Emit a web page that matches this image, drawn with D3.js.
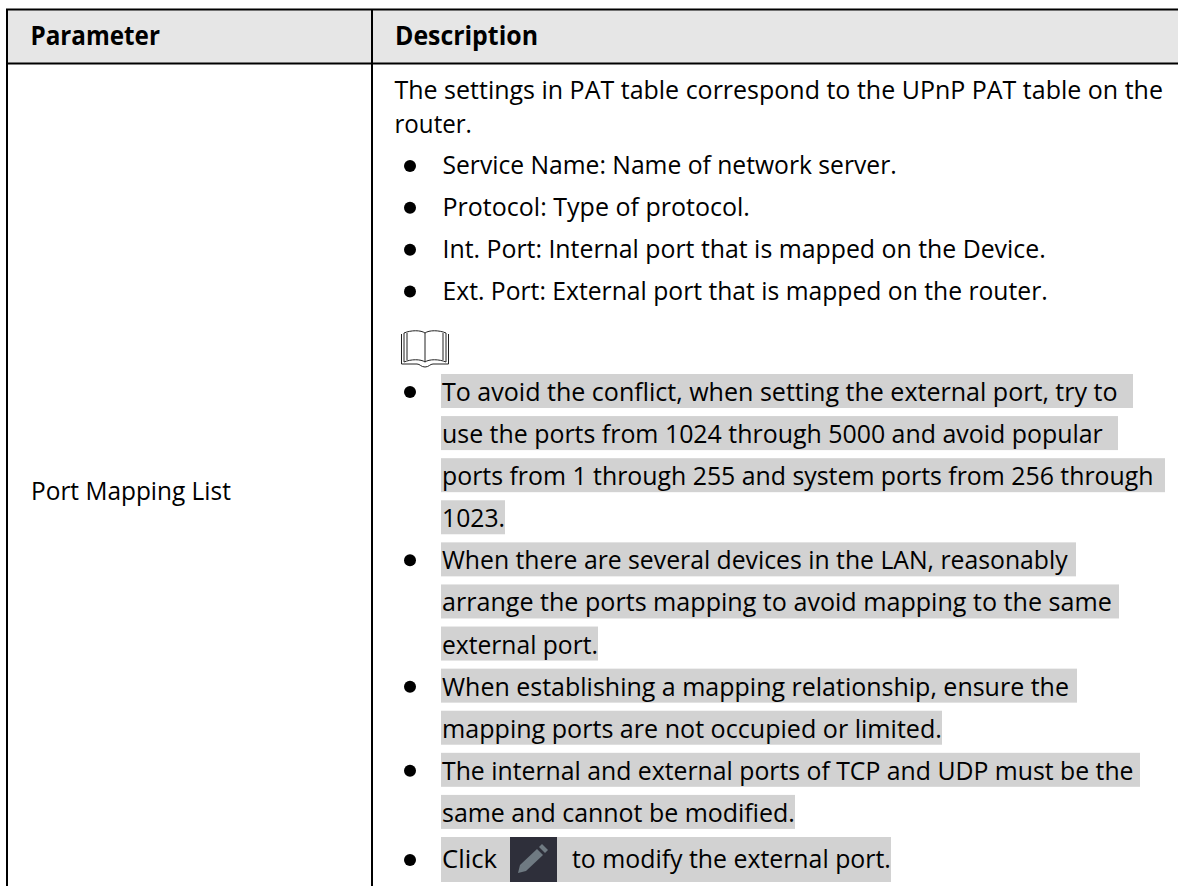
<!DOCTYPE html>
<html><head><meta charset="utf-8">
<script src="https://cdn.jsdelivr.net/npm/d3@7"></script>
<style>html,body{margin:0;padding:0;background:#fff;overflow:hidden}svg{display:block}text{font-family:"Open Sans",sans-serif;fill:#000}</style>
</head><body><div id="c"></div>
<script>
const headers = ["Parameter", "Description"];
const paramName = "Port Mapping List";
const introLines = ["The settings in PAT table correspond to the UPnP PAT table on the", "router."];
const plainBullets = [
  "Service Name: Name of network server.",
  "Protocol: Type of protocol.",
  "Int. Port: Internal port that is mapped on the Device.",
  "Ext. Port: External port that is mapped on the router."
];
const noteLines = [
  "To avoid the conflict, when setting the external port, try to",
  "use the ports from 1024 through 5000 and avoid popular",
  "ports from 1 through 255 and system ports from 256 through",
  "1023.",
  "When there are several devices in the LAN, reasonably",
  "arrange the ports mapping to avoid mapping to the same",
  "external port.",
  "When establishing a mapping relationship, ensure the",
  "mapping ports are not occupied or limited.",
  "The internal and external ports of TCP and UDP must be the",
  "same and cannot be modified."
];
const noteBulletRows = [0, 4, 7, 9];
const lastBefore = "Click";
const lastAfter = "to modify the external port.";

// Extents (right end of each text line / highlight)
const introEnds = [1163, 472];
const plainEnds = [897, 750, 1046, 1048];
const noteEnds = [1118, 1103, 1154, 505, 1068, 1112, 598, 1069, 942, 1134, 795];
const noteHighlightEnds = [1133, 1118, 1165, 505, 1076, 1119, 598, 1077, 942, 1140, 795];

const W = 1178, H = 886;
const svg = d3.select("#c").append("svg").attr("width", W).attr("height", H);

const FS = 26;
const colLeft = 7, colMid = 372;
const plainY = d3.scaleLinear().domain([0, 3]).range([174, 299.5]);
const noteTop = d3.scaleLinear().domain([0, 11]).range([374, 837]);
const noteBase = i => noteTop(i) + 27;
const HL = "#d2d2d2";

// header band
svg.append("rect").attr("x", colLeft).attr("y", 9).attr("width", W - colLeft).attr("height", 54).attr("fill", "#e6e6e6");

// highlights
svg.selectAll("rect.hl").data(noteHighlightEnds).join("rect").attr("class", "hl")
  .attr("x", 441).attr("y", (d, i) => noteTop(i)).attr("width", d => d - 441).attr("height", 34).attr("fill", HL);
svg.append("rect").attr("x", 441).attr("y", noteTop(11)).attr("width", 891 - 441).attr("height", 45).attr("fill", HL);

// grid lines
const lines = [[6, 9.5, W, 9.5], [6, 63.5, W, 63.5], [colLeft, 9, colLeft, H], [colMid, 9, colMid, H]];
svg.selectAll("line.g").data(lines).join("line").attr("class", "g")
  .attr("x1", d => d[0]).attr("y1", d => d[1]).attr("x2", d => d[2]).attr("y2", d => d[3])
  .attr("stroke", "#000").attr("stroke-width", 2);

// Text is narrowed horizontally to the width (the original face is narrower)
function put(txt, x, y, end, weight) {
  const t = svg.append("text").attr("font-size", FS).text(txt);
  if (weight) t.attr("font-weight", weight);
  const natural = t.node().getComputedTextLength();
  t.attr("transform", `translate(${x},${y}) scale(${(end - x) / natural},1)`);
  return t;
}

function draw() {
  svg.selectAll("text").remove();
  put(headers[0], 30.5, 45, 160, 700);
  put(headers[1], 395, 45, 538, 700);
  put(paramName, 31, 500, 231);
  introLines.forEach((s, i) => put(s, 394.5, i === 0 ? 99 : 133, introEnds[i]));
  plainBullets.forEach((s, i) => put(s, 442.5, plainY(i), plainEnds[i]));
  noteLines.forEach((s, i) => put(s, 442, noteBase(i), noteEnds[i]));
  put(lastBefore, 442, 868, 497);
  put(lastAfter, 572, 868, 891);
}
draw();
if (document.fonts && document.fonts.ready) document.fonts.ready.then(draw);

// bullets
const bulletYs = [0, 1, 2, 3].map(i => plainY(i) - 8)
  .concat(noteBulletRows.map(i => noteBase(i) - 9))
  .concat([860]);
svg.selectAll("circle.b").data(bulletYs).join("circle").attr("class", "b")
  .attr("cx", 410).attr("cy", d => d).attr("r", 6).attr("fill", "#000");

// book icon
const book = svg.append("g").attr("transform", "translate(401,330)").attr("fill", "none").attr("stroke", "#222").attr("stroke-width", 1);
book.append("path").attr("d", "M3,3 C10,0 20,0 24,3 C28,0 38,0 45,3 L45,32 C38,29 28,29 24,32 C20,29 10,29 3,32 Z");
book.append("path").attr("d", "M24,3 L24,32");
book.append("path").attr("d", "M0.5,4 L0.5,34 L16,34 C19,34 20,37 24,37 C28,37 29,34 32,34 L47.5,34 L47.5,4");
book.append("path").attr("d", "M6,3 L6,30");
book.append("path").attr("d", "M42,3 L42,30");

// pencil icon
const icon = svg.append("g").attr("transform", "translate(510,837)");
icon.append("rect").attr("width", 47).attr("height", 45).attr("fill", "#2e2f3a");
icon.append("path").attr("d", "M10,28 L27,12 L33,18 L16,34 L8,36 Z").attr("fill", "#6f7a82");
icon.append("path").attr("d", "M29,10 L32,7 L38,13 L35,16 Z").attr("fill", "#6f7a82");
</script></body></html>
